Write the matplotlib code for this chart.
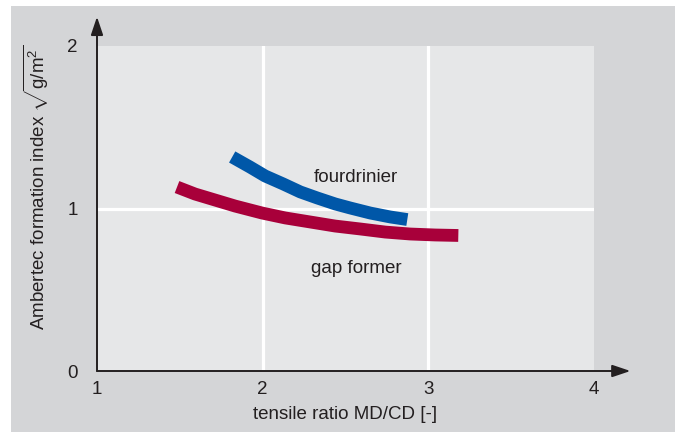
#!/usr/bin/env python3
import matplotlib
matplotlib.use("Agg")
import matplotlib.pyplot as plt
from matplotlib.patches import Rectangle

# Data
fourdrinier_x = [1.816, 1.924, 2.015, 2.124, 2.227, 2.329, 2.438, 2.529, 2.650, 2.770, 2.873]
fourdrinier_y = [1.317, 1.255, 1.200, 1.151, 1.102, 1.065, 1.028, 1.003, 0.972, 0.948, 0.932]
gap_former_x = [1.483, 1.592, 1.713, 1.834, 1.997, 2.136, 2.287, 2.438, 2.589, 2.740, 2.891, 3.042, 3.181]
gap_former_y = [1.132, 1.089, 1.052, 1.015, 0.972, 0.942, 0.917, 0.892, 0.874, 0.855, 0.843, 0.837, 0.834]
x_ticks = [1, 2, 3, 4]
y_ticks = [0, 1, 2]

plt.rcParams["font.family"] = ["Liberation Sans", "DejaVu Sans"]
plt.rcParams["mathtext.fontset"] = "custom"
plt.rcParams["mathtext.rm"] = "Liberation Sans"
plt.rcParams["mathtext.it"] = "Liberation Sans"

text_color = "#231f20"
blue = "#0057a8"
red = "#a8003a"

fig = plt.figure(figsize=(6.75, 4.32), dpi=100, facecolor="white")
fig.patches.append(Rectangle((11 / 675, 0), 1, 426 / 432, transform=fig.transFigure,
                             facecolor="#d4d5d7", edgecolor="none", zorder=-10))
ax = fig.add_axes([97 / 675, 1 - 371 / 432, (594 - 97) / 675, (371 - 46) / 432])
ax.set_facecolor("#e6e7e8")
ax.set_xlim(1, 4)
ax.set_ylim(0, 2)
for spine in ax.spines.values():
    spine.set_visible(False)

# white grid
for x in [2, 3]:
    ax.axvline(x, color="white", lw=2.3, zorder=1)
ax.axhline(1, color="white", lw=2.3, zorder=1)

ax.plot(gap_former_x, gap_former_y, color=red, lw=9.2,
        solid_capstyle="butt", solid_joinstyle="round", zorder=3)
ax.plot(fourdrinier_x, fourdrinier_y, color=blue, lw=9.2,
        solid_capstyle="butt", solid_joinstyle="round", zorder=3)

ax.text(2.565, 1.19, "fourdrinier", fontsize=13.5, color=text_color, ha="center", va="center")
ax.text(2.565, 0.63, "gap former", fontsize=13.5, color=text_color, ha="center", va="center")

# axes with arrows
arrow = dict(arrowstyle="-|>,head_length=1.1,head_width=0.37", color=text_color,
             lw=1.4, shrinkA=0, shrinkB=0, mutation_scale=10)
ax.annotate("", xy=(1, 2.18), xytext=(1, 0), arrowprops=arrow, annotation_clip=False, zorder=5)
ax.annotate("", xy=(4.22, 0), xytext=(1, 0), arrowprops=arrow, annotation_clip=False, zorder=5)

ax.set_xticks(x_ticks)
ax.set_yticks(y_ticks)
ax.tick_params(axis="both", length=0, labelsize=13.5, labelcolor=text_color)
ax.tick_params(axis="y", pad=14)
ax.tick_params(axis="x", pad=7)

ax.set_xlabel("tensile ratio MD/CD [-]", fontsize=13.5, color=text_color, labelpad=6)
ax.set_ylabel(r"Ambertec formation index $\sqrt{\mathrm{g/m^2}}$", fontsize=13.5,
              color=text_color)
ax.yaxis.set_label_coords(-0.092, 0.565)

fig.savefig("out.png", dpi=100, facecolor=fig.get_facecolor())
